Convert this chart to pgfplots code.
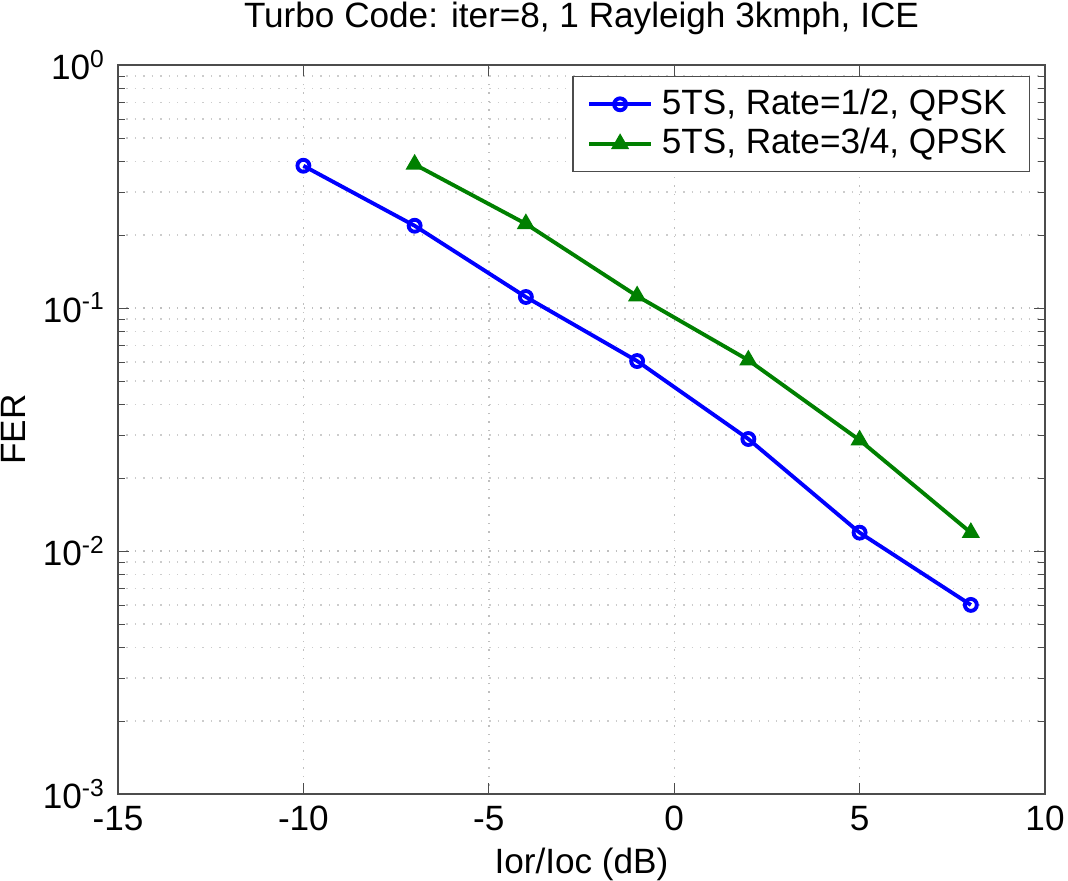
\documentclass[border=0pt]{standalone}
\usepackage{fontspec}
\setmainfont{Liberation Sans}
\usepackage{pgfplots}
\pgfplotsset{compat=1.18}
\definecolor{mblue}{RGB}{0,0,255}
\definecolor{mgreen}{RGB}{0,128,0}
\begin{document}
\fontsize{10}{12}\selectfont
\begin{tikzpicture}
\begin{axis}[
  scale only axis, width=92.7mm, height=72.9mm,
  xmin=-15, xmax=10, ymin=1e-3, ymax=1,
  ymode=log, log basis y=10,
  xtick={-15,-10,-5,0,5,10},
  ytick={1e-3,1e-2,1e-1,1},
  minor ytick={2e-3,3e-3,4e-3,5e-3,6e-3,7e-3,8e-3,9e-3,
               2e-2,3e-2,4e-2,5e-2,6e-2,7e-2,8e-2,9e-2,
               2e-1,3e-1,4e-1,5e-1,6e-1,7e-1,8e-1,9e-1},
  /pgf/number format/assume math mode=true,
  xticklabel style={/pgf/number format/assume math mode=true},
  yticklabel={10\textsuperscript{\pgfmathprintnumber[assume math mode=true]{\tick}}},
  xmajorgrids, ymajorgrids, yminorgrids,
  major grid style={gray!50, dotted},
  minor grid style={gray!40, dotted},
  tick align=inside,
  major tick length=1.1mm, minor tick length=0.7mm,
  tick style={gray!60!black},
  axis line style={gray!60!black},
  title={Turbo Code: iter=8, 1 Rayleigh 3kmph, ICE},
  title style={yshift=-1pt},
  xlabel={Ior/Ioc (dB)},
  ylabel={FER},
  xlabel style={yshift=2pt},
  ylabel style={yshift=-2pt},
  legend style={at={(0.984,0.985)}, anchor=north east, draw=gray!60!black,
    font=\fontsize{10}{12}\selectfont, inner xsep=4pt, inner ysep=1.5pt,
    row sep=-1.5pt, nodes={inner xsep=2.5pt}},
  legend cell align=left,
  legend image code/.code={
    \draw[#1, mark repeat=2, mark phase=2] plot coordinates {(0mm,0mm) (3.1mm,0mm) (6.2mm,0mm)};},
]
\addplot[color=mblue, line width=1.1pt, mark=o, mark size=1.7pt, mark options={line width=1.1pt}]
  coordinates {(-10,0.385) (-7,0.218) (-4,0.111) (-1,0.0605) (2,0.0289) (5,0.0119) (8,0.0060)};
\addlegendentry{5TS, Rate=1/2, QPSK}
\addplot[color=mgreen, line width=1.1pt, mark=triangle*, mark size=2.2pt, mark options={line width=0.8pt}]
  coordinates {(-7,0.39) (-4,0.222) (-1,0.112) (2,0.061) (5,0.0286) (8,0.0119)};
\addlegendentry{5TS, Rate=3/4, QPSK}
\coordinate (bl) at (rel axis cs:0,0);
\coordinate (tr) at (rel axis cs:1,1);
\end{axis}
\pgfresetboundingbox
\path ([shift={(-11.8mm,-8.7mm)}]bl) rectangle ([shift={(2.3mm,6.5mm)}]tr);
\end{tikzpicture}
\end{document}
